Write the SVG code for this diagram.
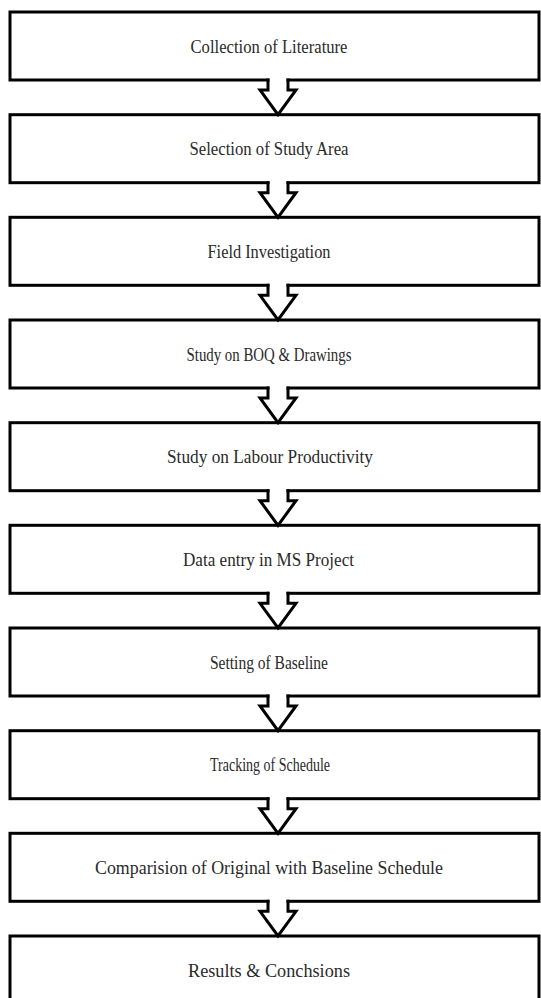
<svg xmlns="http://www.w3.org/2000/svg" xmlns:xlink="http://www.w3.org/1999/xlink" width="541" height="998" viewBox="0 0 541 998">
<style>
.box{fill:#fff;stroke:#000;stroke-width:3}
.lbl{font-family:"Liberation Serif","Times New Roman",serif;font-size:18px;fill:#2a2a2a;text-anchor:middle}
.ash{fill:#fff;stroke:none}
.aln{fill:none;stroke:#000;stroke-width:3;stroke-linejoin:miter}
</style>
<defs>
<g id="arr">
<polygon class="ash" points="269.5,-3 269.5,10 260,10 278,34.7 296,10 286.5,10 286.5,-3"/>
<path class="aln" d="M268,-1.5 V10 H260 L278,34.7 L296,10 H288 V-1.5"/>
</g>
</defs>
<rect width="541" height="998" fill="#fff"/>
<g id="nodes">
<g id="n1"><rect class="box" x="10" y="12" width="529" height="68"/><text class="lbl" x="269" y="52.5" textLength="157" lengthAdjust="spacingAndGlyphs">Collection of Literature</text></g>
<g id="n2"><rect class="box" x="10" y="114.7" width="529" height="68"/><text class="lbl" x="269" y="155.2" textLength="159" lengthAdjust="spacingAndGlyphs">Selection of Study Area</text></g>
<g id="n3"><rect class="box" x="10" y="217.3" width="529" height="68"/><text class="lbl" x="269" y="257.8" textLength="123" lengthAdjust="spacingAndGlyphs">Field Investigation</text></g>
<g id="n4"><rect class="box" x="10" y="320" width="529" height="68"/><text class="lbl" x="269" y="360.5" textLength="165" lengthAdjust="spacingAndGlyphs">Study on BOQ &amp; Drawings</text></g>
<g id="n5"><rect class="box" x="10" y="422.7" width="529" height="68"/><text class="lbl" x="270" y="463.2" textLength="206" lengthAdjust="spacingAndGlyphs">Study on Labour Productivity</text></g>
<g id="n6"><rect class="box" x="10" y="525.3" width="529" height="68"/><text class="lbl" x="268.5" y="565.8" textLength="171" lengthAdjust="spacingAndGlyphs">Data entry in MS Project</text></g>
<g id="n7"><rect class="box" x="10" y="628" width="529" height="68"/><text class="lbl" x="269" y="668.5" textLength="118" lengthAdjust="spacingAndGlyphs">Setting of Baseline</text></g>
<g id="n8"><rect class="box" x="10" y="730.7" width="529" height="68"/><text class="lbl" x="270" y="771.2" textLength="120" lengthAdjust="spacingAndGlyphs">Tracking  of Schedule</text></g>
<g id="n9"><rect class="box" x="10" y="833.3" width="529" height="68"/><text class="lbl" x="269" y="873.8" textLength="348" lengthAdjust="spacingAndGlyphs">Comparision of Original  with Baseline Schedule</text></g>
<g id="n10"><rect class="box" x="10" y="936" width="529" height="68"/><text class="lbl" x="269" y="976.5" textLength="162" lengthAdjust="spacingAndGlyphs">Results &amp; Conchsions</text></g>
</g>
<g id="connectors">
<use xlink:href="#arr" transform="translate(0,80)"/>
<use xlink:href="#arr" transform="translate(0,182.7)"/>
<use xlink:href="#arr" transform="translate(0,285.3)"/>
<use xlink:href="#arr" transform="translate(0,388)"/>
<use xlink:href="#arr" transform="translate(0,490.7)"/>
<use xlink:href="#arr" transform="translate(0,593.3)"/>
<use xlink:href="#arr" transform="translate(0,696)"/>
<use xlink:href="#arr" transform="translate(0,798.7)"/>
<use xlink:href="#arr" transform="translate(0,901.3)"/>
</g>
</svg>
